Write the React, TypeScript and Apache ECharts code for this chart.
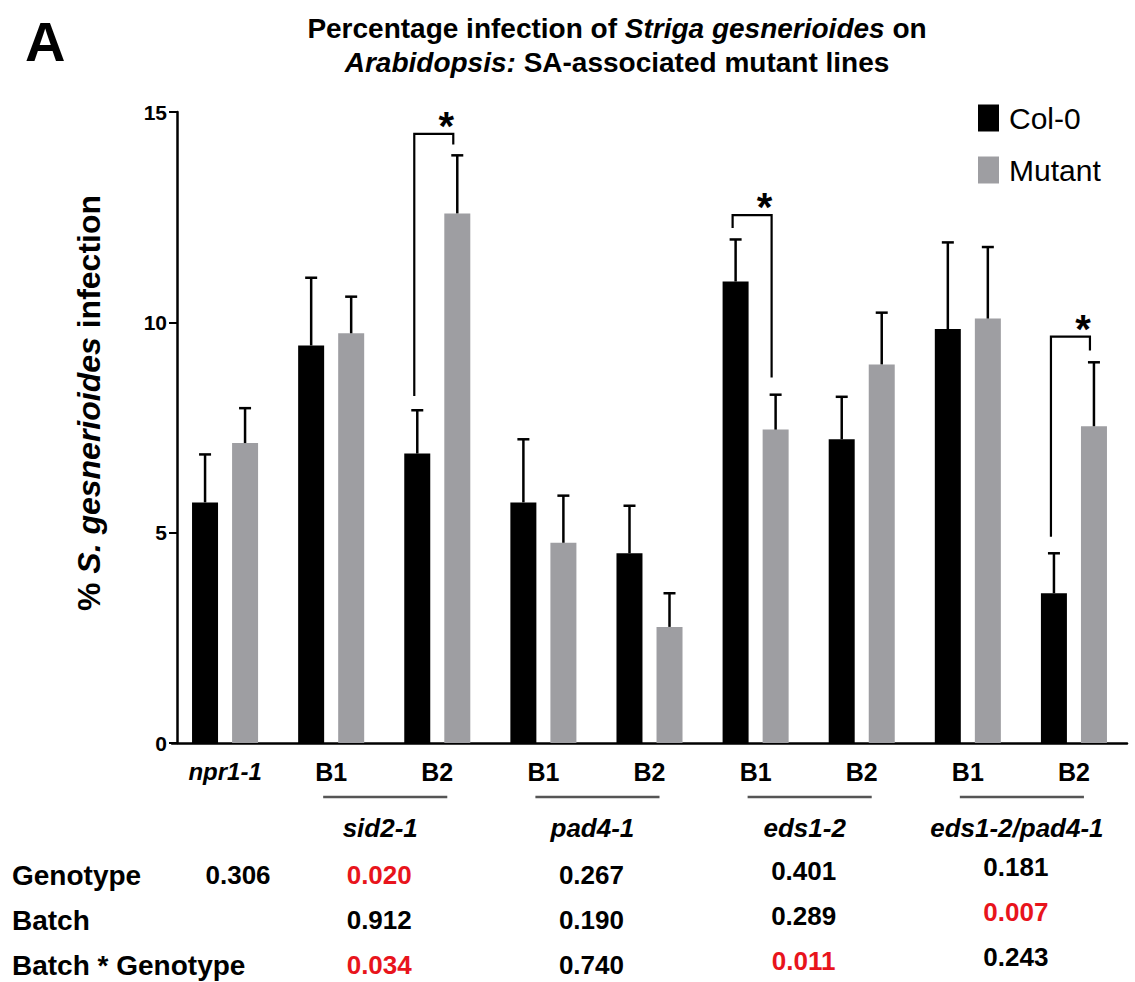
import React, { useEffect, useRef } from 'react';
import * as echarts from 'echarts';

const FONT = '"Liberation Sans", Arial, Helvetica, sans-serif';

const categories = ['npr1-1', 'B1', 'B2', 'B1', 'B2', 'B1', 'B2', 'B1', 'B2'];
const col0Values = [5.72, 9.45, 6.88, 5.72, 4.51, 10.97, 7.22, 9.84, 3.56];
const col0ErrTop = [6.86, 11.06, 7.91, 7.22, 5.64, 11.97, 8.23, 11.9, 4.51];
const mutantValues = [7.13, 9.74, 12.59, 4.76, 2.76, 7.45, 9.0, 10.09, 7.53];
const mutantErrTop = [7.96, 10.61, 13.97, 5.88, 3.56, 8.28, 10.23, 11.79, 9.05];

// significance brackets: [category index, left foot, top, right foot]
const brackets = [
  [2, 8.25, 14.48, 14.23],
  [5, 12.24, 12.55, 8.69],
  [8, 4.9, 9.66, 9.33],
];

const groupNames = ['sid2-1', 'pad4-1', 'eds1-2', 'eds1-2/pad4-1'];
const groupFrom = [1, 3, 5, 7];
const groupTo = [2, 4, 6, 8];

const tableRowLabels = ['Genotype', 'Batch', 'Batch * Genotype'];
const tableColFrom = [0, 1, 3, 5, 7];
const tableColTo = [0, 2, 4, 6, 8];
const genotypeP = ['0.306', '0.020', '0.267', '0.401', '0.181'];
const batchP = ['', '0.912', '0.190', '0.289', '0.007'];
const interactionP = ['', '0.034', '0.740', '0.011', '0.243'];

const yTicks = { min: 0, max: 15, interval: 5 };

export default function App() {
  const ref = useRef<HTMLDivElement>(null);
  useEffect(() => {
    if (!ref.current) return;
    const chart = echarts.init(ref.current, null, { renderer: 'svg' });
    const barW = 26;
    const half = 20;
    const rowGap = 45;

    const errData = [
      ...col0Values.map((v, i) => [i, v, col0ErrTop[i], -1]),
      ...mutantValues.map((v, i) => [i, v, mutantErrTop[i], 1]),
    ];

    const option: any = {
      animation: false,
      backgroundColor: '#fff',
      grid: { left: 172, right: 8, top: 112, bottom: 239 },
      legend: {
        data: ['Col-0', 'Mutant'],
        orient: 'vertical',
        left: 973,
        top: 98,
        icon: 'rect',
        itemWidth: 21,
        itemHeight: 27,
        itemGap: 22,
        textStyle: { fontSize: 30, fontFamily: FONT, color: '#000', padding: [0, 0, 0, 5] },
      },
      xAxis: {
        type: 'category',
        data: categories,
        axisLine: { lineStyle: { color: '#000', width: 2.5 } },
        axisTick: { alignWithLabel: true, length: 5, lineStyle: { color: '#000', width: 2 } },
        axisLabel: {
          interval: 0,
          margin: 16,
          formatter: (v: string, i: number) => (i === 0 ? `{i|${v}}` : `{n|${v}}`),
          rich: {
            i: { fontSize: 24, fontWeight: 'bold', fontStyle: 'italic', fontFamily: FONT, color: '#000' },
            n: { fontSize: 25, fontWeight: 'bold', fontFamily: FONT, color: '#000' },
          },
        },
      },
      yAxis: {
        type: 'value',
        min: yTicks.min,
        max: yTicks.max,
        interval: yTicks.interval,
        offset: -5,
        splitLine: { show: false },
        axisLine: { show: true, lineStyle: { color: '#000', width: 2.5 } },
        axisTick: { show: true, length: 8, lineStyle: { color: '#000', width: 2 } },
        axisLabel: { fontSize: 21, fontWeight: 'bold', fontFamily: FONT, color: '#000', margin: 10 },
      },
      graphic: [
        {
          type: 'text',
          x: 25,
          y: 41,
          style: { text: 'A', fontSize: 56, fontWeight: 'bold', fontFamily: FONT, fill: '#000', verticalAlign: 'middle' },
        },
        {
          type: 'text',
          x: 617,
          y: 45,
          style: {
            text: '{b|Percentage infection of }{bi|Striga gesnerioides}{b| on}\n{bi|Arabidopsis:}{b| SA-associated mutant lines}',
            align: 'center',
            verticalAlign: 'middle',
            rich: {
              b: { fontSize: 28, fontWeight: 'bold', fontFamily: FONT, fill: '#000', lineHeight: 34 },
              bi: { fontSize: 28, fontWeight: 'bold', fontStyle: 'italic', fontFamily: FONT, fill: '#000', lineHeight: 34 },
            },
          },
        },
        {
          type: 'text',
          x: 89,
          y: 403,
          rotation: Math.PI / 2,
          style: {
            text: '{b|% }{bi|S. gesnerioides}{b| infection}',
            align: 'center',
            verticalAlign: 'middle',
            rich: {
              b: { fontSize: 32, fontWeight: 'bold', fontFamily: FONT, fill: '#000' },
              bi: { fontSize: 32, fontWeight: 'bold', fontStyle: 'italic', fontFamily: FONT, fill: '#000' },
            },
          },
        },
        ...tableRowLabels.map((t, r) => ({
          type: 'text',
          x: 12,
          y: 875 + r * rowGap,
          style: { text: t, fontSize: 28, fontWeight: 'bold', fontFamily: FONT, fill: '#000', verticalAlign: 'middle' },
        })),
      ],
      series: [
        {
          name: 'Col-0',
          type: 'bar',
          data: col0Values,
          barWidth: barW,
          barGap: '54%',
          itemStyle: { color: '#000' },
          z: 2,
        },
        {
          name: 'Mutant',
          type: 'bar',
          data: mutantValues,
          barWidth: barW,
          itemStyle: { color: '#9e9ea2' },
          z: 2,
        },
        {
          type: 'custom',
          name: 'err',
          data: errData,
          encode: { x: 0, y: [1, 2] },
          z: 3,
          renderItem: (params: any, api: any) => {
            const idx = api.value(0);
            const side = api.value(3);
            const p1 = api.coord([idx, api.value(1)]);
            const p2 = api.coord([idx, api.value(2)]);
            const x = p1[0] + side * half;
            const style = { stroke: '#000', lineWidth: 2.5 };
            return {
              type: 'group',
              children: [
                { type: 'line', shape: { x1: x, y1: p1[1], x2: x, y2: p2[1] }, style },
                { type: 'line', shape: { x1: x - 6, y1: p2[1], x2: x + 6, y2: p2[1] }, style },
              ],
            };
          },
        },
        {
          type: 'custom',
          name: 'sig',
          data: brackets,
          encode: { x: 0, y: [1, 2, 3] },
          z: 4,
          clip: false,
          renderItem: (params: any, api: any) => {
            const idx = api.value(0);
            const c = api.coord([idx, 0])[0];
            const yl = api.coord([idx, api.value(1)])[1];
            const yt = api.coord([idx, api.value(2)])[1];
            const yr = api.coord([idx, api.value(3)])[1];
            const xl = c - 23;
            const xr = c + 16;
            return {
              type: 'group',
              children: [
                {
                  type: 'polyline',
                  shape: { points: [[xl, yl], [xl, yt], [xr, yt], [xr, yr]] },
                  style: { stroke: '#000', lineWidth: 2.2, fill: 'none' },
                },
                {
                  type: 'text',
                  style: {
                    text: '*',
                    x: c + 9,
                    y: yt - 8,
                    align: 'center',
                    verticalAlign: 'middle',
                    fontSize: 40,
                    fontWeight: 'bold',
                    fontFamily: FONT,
                    fill: '#000',
                  },
                },
              ],
            };
          },
        },
        {
          type: 'custom',
          name: 'groups',
          data: groupNames.map((n, i) => [groupFrom[i], groupTo[i], i]),
          encode: { x: [0, 1] },
          clip: false,
          z: 4,
          renderItem: (params: any, api: any) => {
            const a = api.coord([api.value(0), 0]);
            const b = api.coord([api.value(1), 0]);
            const name = groupNames[api.value(2)];
            const y0 = a[1];
            const x1 = a[0] - 8;
            const x2 = b[0] + 10;
            return {
              type: 'group',
              children: [
                { type: 'line', shape: { x1, y1: y0 + 54, x2, y2: y0 + 54 }, style: { stroke: '#555', lineWidth: 2.5 } },
                {
                  type: 'text',
                  style: {
                    text: name,
                    x: (x1 + x2) / 2 - 5,
                    y: y0 + 85,
                    align: 'center',
                    verticalAlign: 'middle',
                    fontSize: 26,
                    fontWeight: 'bold',
                    fontStyle: 'italic',
                    fontFamily: FONT,
                    fill: '#000',
                  },
                },
              ],
            };
          },
        },
        {
          type: 'custom',
          name: 'table',
          data: tableColFrom.map((f, i) => [f, tableColTo[i], i]),
          encode: { x: [0, 1] },
          clip: false,
          z: 4,
          renderItem: (params: any, api: any) => {
            const a = api.coord([api.value(0), 0]);
            const b = api.coord([api.value(1), 0]);
            const col = api.value(2);
            const single = api.value(0) === api.value(1);
            const x = (a[0] + b[0]) / 2 + (single ? 13 : -5);
            const rows = [genotypeP[col], batchP[col], interactionP[col]];
            const children: any[] = [];
            rows.forEach((t, r) => {
              if (t === '') return;
              children.push({
                type: 'text',
                style: {
                  text: t,
                  x,
                  y: a[1] + 132 + r * rowGap - (col === 4 ? 8 : col === 3 ? 4 : 0),
                  align: 'center',
                  verticalAlign: 'middle',
                  fontSize: 26,
                  fontWeight: 'bold',
                  fontFamily: FONT,
                  fill: parseFloat(t) < 0.05 ? '#e8141c' : '#000',
                },
              });
            });
            return { type: 'group', children };
          },
        },
      ],
    };
    chart.setOption(option);
    return () => chart.dispose();
  }, []);
  return (
    <div
      ref={ref}
      style={{ position: 'fixed', left: 0, top: 0, width: 1135, height: 982, background: '#fff' }}
    />
  );
}
